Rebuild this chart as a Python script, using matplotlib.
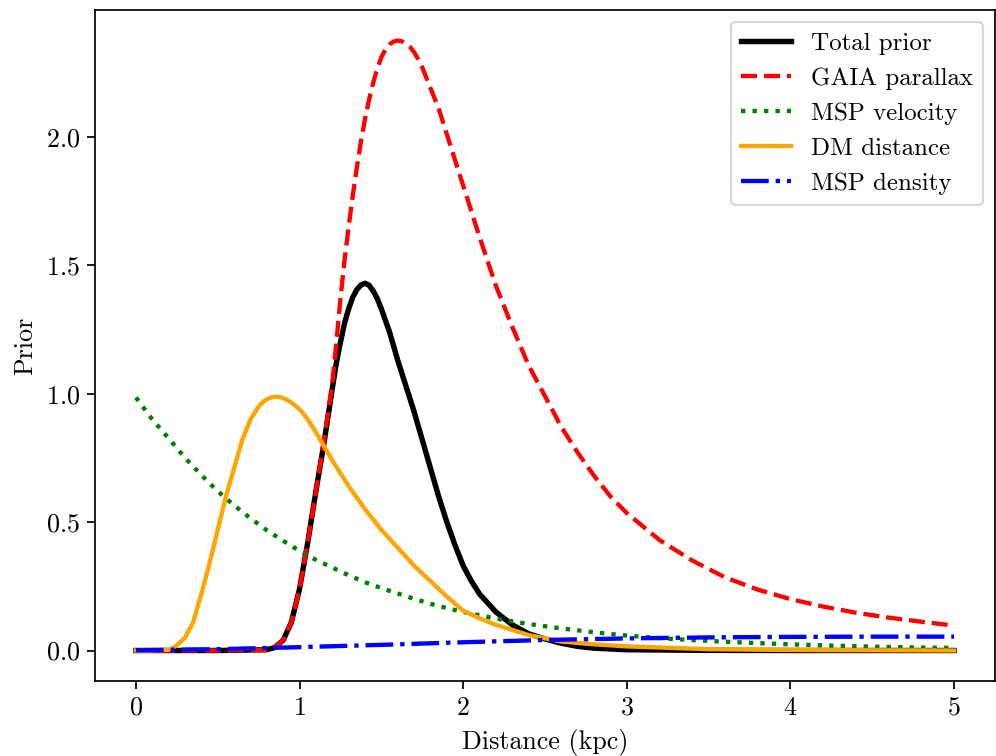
import matplotlib
matplotlib.use("Agg")
import matplotlib.pyplot as plt

plt.rcParams["font.family"] = "serif"
plt.rcParams["font.serif"] = ["cmr10", "DejaVu Serif"]
plt.rcParams["axes.formatter.use_mathtext"] = True
plt.rcParams["font.size"] = 12

# Total prior
total_d = [0.0, 0.5, 0.8, 0.85, 0.9, 0.95, 1.0, 1.05, 1.1, 1.15, 1.2, 1.225,
           1.25, 1.275, 1.3, 1.325, 1.35, 1.375, 1.4, 1.425, 1.45, 1.475, 1.5,
           1.55, 1.6, 1.65, 1.7, 1.75, 1.8, 1.85, 1.9, 1.95, 2.0, 2.05, 2.1,
           2.2, 2.3, 2.4, 2.5, 2.6, 2.7, 2.8, 3.0, 3.5, 4.0, 4.5, 5.0]
total_p = [0.0, 0.0, 0.003, 0.012, 0.04, 0.11, 0.24, 0.42, 0.62, 0.81, 1.02,
           1.12, 1.2, 1.275, 1.33, 1.375, 1.405, 1.423, 1.43, 1.422, 1.40,
           1.37, 1.33, 1.24, 1.13, 1.03, 0.93, 0.82, 0.71, 0.6, 0.5, 0.41,
           0.33, 0.27, 0.22, 0.15, 0.1, 0.065, 0.045, 0.028, 0.016, 0.009,
           0.003, 0.0005, 0.0, 0.0, 0.0]

# GAIA parallax
gaia_d = [0.0, 0.5, 0.8, 0.85, 0.9, 0.95, 1.0, 1.05, 1.1, 1.15, 1.2, 1.225,
          1.25, 1.275, 1.3, 1.325, 1.35, 1.375, 1.4, 1.425, 1.45, 1.475, 1.5,
          1.525, 1.55, 1.575, 1.6, 1.625, 1.65, 1.675, 1.7, 1.725, 1.75, 1.8,
          1.85, 1.9, 2.0, 2.1, 2.2, 2.3, 2.4, 2.5, 2.6, 2.7, 2.8, 2.9, 3.0,
          3.2, 3.4, 3.6, 3.8, 4.0, 4.2, 4.4, 4.6, 4.8, 5.0]
gaia_p = [0.0, 0.0, 0.003, 0.012, 0.04, 0.11, 0.24, 0.42, 0.62, 0.82, 1.04,
          1.2, 1.37, 1.52, 1.65, 1.77, 1.88, 1.98, 2.07, 2.145, 2.21, 2.265,
          2.31, 2.34, 2.36, 2.371, 2.375, 2.372, 2.363, 2.35, 2.33, 2.302,
          2.27, 2.19, 2.11, 2.01, 1.81, 1.61, 1.42, 1.26, 1.11, 0.99, 0.87,
          0.77, 0.68, 0.6, 0.535, 0.43, 0.35, 0.285, 0.237, 0.2, 0.171,
          0.147, 0.128, 0.112, 0.097]

# MSP velocity
vel_d = [0.0, 0.1, 0.2, 0.3, 0.4, 0.5, 0.6, 0.7, 0.8, 0.9, 1.0, 1.1, 1.2, 1.3,
         1.4, 1.5, 1.6, 1.7, 1.8, 1.9, 2.0, 2.2, 2.4, 2.6, 2.8, 3.0, 3.25,
         3.5, 3.75, 4.0, 4.25, 4.5, 4.75, 5.0]
vel_p = [0.985, 0.9, 0.826, 0.75, 0.683, 0.62, 0.565, 0.515, 0.468, 0.427,
         0.388, 0.353, 0.323, 0.293, 0.266, 0.243, 0.222, 0.201, 0.182, 0.165,
         0.15, 0.124, 0.103, 0.086, 0.071, 0.058, 0.046, 0.037, 0.03, 0.024,
         0.019, 0.015, 0.012, 0.01]

# DM distance
dm_d = [0.0, 0.1, 0.2, 0.225, 0.25, 0.3, 0.35, 0.4, 0.45, 0.5, 0.55, 0.6, 0.65,
        0.7, 0.75, 0.775, 0.8, 0.825, 0.85, 0.875, 0.9, 0.925, 0.95, 0.975,
        1.0, 1.05, 1.1, 1.2, 1.3, 1.4, 1.5, 1.6, 1.7, 1.8, 1.9, 2.0, 2.1, 2.2,
        2.4, 2.6, 2.8, 3.0, 3.5, 4.0, 4.5, 5.0]
dm_p = [0.0, 0.0, 0.003, 0.01, 0.02, 0.05, 0.11, 0.22, 0.34, 0.47, 0.6, 0.71,
        0.82, 0.9, 0.95, 0.967, 0.978, 0.985, 0.988, 0.987, 0.983, 0.975,
        0.965, 0.953, 0.94, 0.9, 0.85, 0.74, 0.64, 0.55, 0.47, 0.4, 0.33,
        0.27, 0.21, 0.155, 0.125, 0.1, 0.06, 0.035, 0.024, 0.016, 0.005,
        0.002, 0.001, 0.0]

# MSP density
dens_d = [0.0, 0.5, 1.0, 1.5, 2.0, 2.5, 3.0, 3.5, 4.0, 4.5, 5.0]
dens_p = [0.001, 0.005, 0.013, 0.022, 0.032, 0.041, 0.047, 0.051, 0.053,
          0.054, 0.054]

fig = plt.figure(figsize=(996 / 156, 756 / 156), dpi=156)
ax = fig.add_axes([95 / 996, 75 / 756, 900 / 996, 671 / 756])

ax.plot(total_d, total_p, color="black", lw=2.5, label="Total prior")
ax.plot(gaia_d, gaia_p, color="red", lw=2, ls="--", label="GAIA parallax")
ax.plot(vel_d, vel_p, color="green", lw=2, ls=":", label="MSP velocity")
ax.plot(dm_d, dm_p, color="orange", lw=2, ls="-", label="DM distance")
ax.plot(dens_d, dens_p, color="blue", lw=2, ls="-.", label="MSP density")

ax.set_xlabel("Distance (kpc)")
ax.set_ylabel("Prior")
ax.legend(loc="upper right", fontsize=11.5)

fig.savefig("out.png", dpi=156)
